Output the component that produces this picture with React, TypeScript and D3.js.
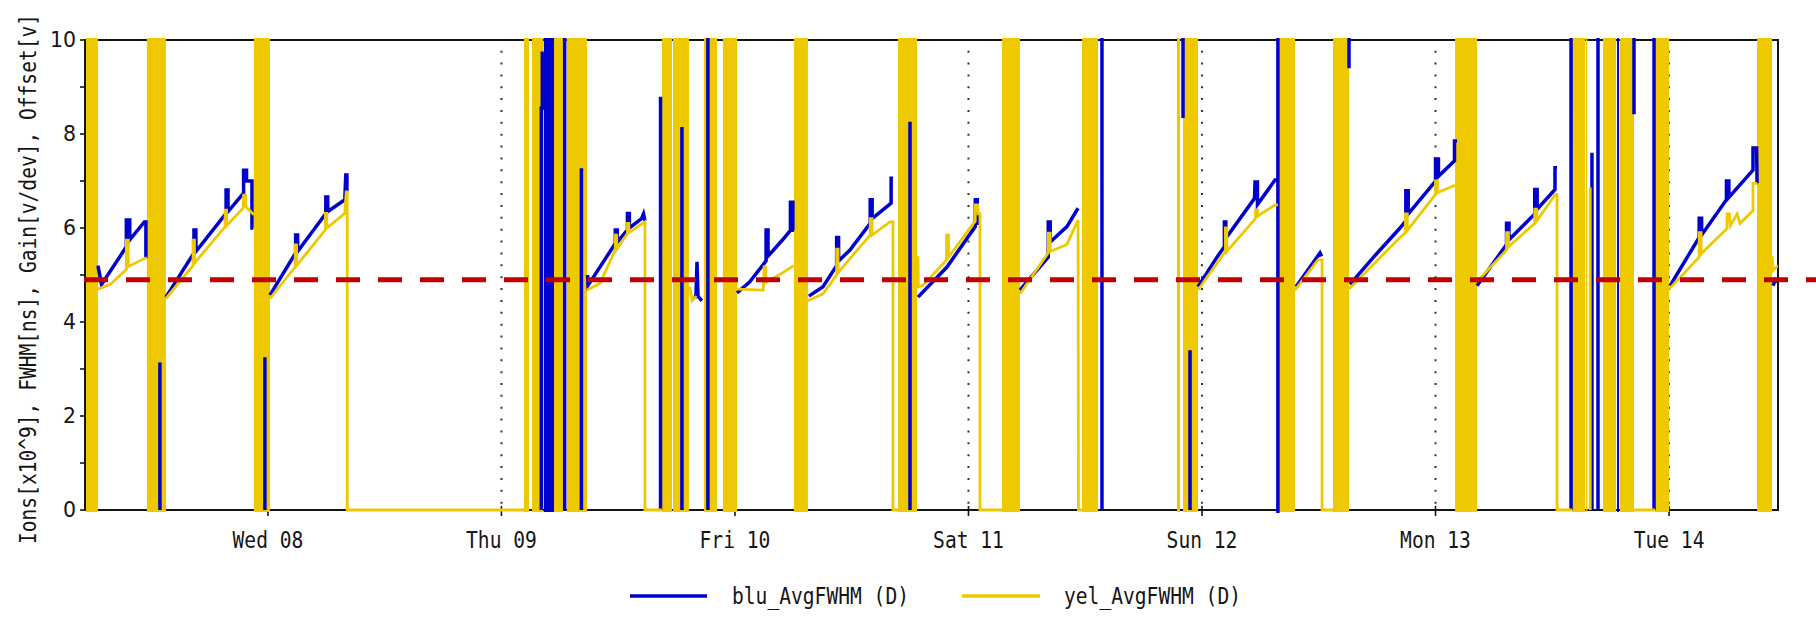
import React from 'react';
import * as d3 from 'd3';

// ---------- data (time = hours since Tue 07 00:00 UTC, value in chart units) ----------
type P = [number, number] | null;

const SERIES_NAMES = ['blu_AvgFWHM (D)', 'yel_AvgFWHM (D)'];
const Y_LABEL = 'Ions[x10^9], FWHM[ns], Gain[v/dev], Offset[v]';
const Y_TICKS = [0, 2, 4, 6, 8, 10];
const Y_MINOR = [1, 3, 5, 7, 9];
const THRESHOLD = 4.9;
const X_START_H = 5.2;
const X_END_H = 179.2;

const blu: P[] = [
  [6.53, 5.2], [6.9, 4.8], [9.45, 5.6], [9.45, 6.17], [9.8, 6.17], [9.8, 5.75], [11.3, 6.13], [11.46, 6.13], [11.46, 5.36], null,
  [12.9, 0], [12.9, 3.14], null,
  [13.52, 4.53], [16.4, 5.47], [16.4, 5.96], [16.6, 5.96], [16.6, 5.5], [19.7, 6.31], [19.7, 6.81], [19.9, 6.81], [19.9, 6.35], [21.5, 6.74], [21.5, 7.23], [21.8, 7.23], [21.8, 7.0], [22.36, 7.0], [22.36, 6.0], [22.5, 6.0], null,
  [23.69, 0], [23.69, 3.25], null,
  [24.21, 4.57], [26.85, 5.47], [26.85, 5.85], [27.05, 5.85], [27.05, 5.5], [29.95, 6.31], [29.95, 6.66], [30.15, 6.66], [30.15, 6.35], [31.9, 6.6], [32.0, 7.13], [32.12, 7.13], [32.12, 6.77], null,
  [52.1, 0], [52.1, 8.55], [52.2, 8.55], [52.2, 9.72], [52.35, 9.72], null,
  [54.5, 0], [54.5, 12], null,
  [56.22, 0], [56.22, 7.27], null,
  [56.85, 5.0], [56.9, 4.78], [59.7, 5.67], [59.7, 5.96], [59.9, 5.96], [59.9, 5.7], [60.95, 5.96], [60.95, 6.31], [61.15, 6.31], [61.15, 6.0], [62.4, 6.2], [62.6, 6.3], [62.75, 6.15], null,
  [64.35, 0], [64.35, 8.79], null,
  [66.55, 0], [66.55, 8.15], null,
  [67.9, 4.5], [68.0, 4.6], [68.1, 5.28], [68.2, 4.55], [68.6, 4.45], null,
  [69.22, 0], [69.22, 12], null,
  [72.21, 4.62], [73.5, 4.85], [75.2, 5.3], [75.2, 5.96], [75.4, 5.96], [75.4, 5.4], [76.9, 5.75], [77.7, 5.95], [77.7, 6.55], [77.95, 6.55], [77.95, 5.95], [78.06, 5.95], null,
  [79.6, 4.55], [81.05, 4.75], [82.45, 5.2], [82.45, 5.8], [82.65, 5.8], [82.65, 5.3], [83.82, 5.53], [85.9, 6.1], [85.9, 6.6], [86.1, 6.6], [86.1, 6.2], [88.05, 6.53], [88.05, 7.06], [88.24, 7.06], null,
  [89.99, 0], [89.99, 8.26], null,
  [90.81, 4.53], [93.79, 5.17], [96.7, 6.03], [96.7, 6.6], [96.9, 6.6], [96.9, 6.1], [97.1, 6.1], null,
  [101.29, 4.68], [104.2, 5.38], [104.2, 6.13], [104.4, 6.13], [104.4, 5.7], [106.12, 6.03], [107.26, 6.42], null,
  [109.72, 0], [109.72, 12], null,
  [118.05, 12], [118.05, 8.34], null,
  [118.77, 0], [118.77, 3.4], null,
  [119.59, 4.75], [121.54, 5.38], [122.3, 5.6], [122.3, 6.13], [122.45, 6.13], [122.45, 5.78], [125.4, 6.63], [125.45, 6.98], [125.7, 6.98], [125.7, 6.5], [126.4, 6.7], [127.5, 7.02], [127.75, 7.02], null,
  [127.8, -1], [127.8, 12], null,
  [129.66, 4.75], [132.13, 5.47], [132.3, 5.4], null,
  [135.11, 12], [135.11, 9.4], null,
  [135.21, 4.8], [137.5, 5.35], [140.35, 6.0], [140.95, 6.15], [140.95, 6.79], [141.2, 6.79], [141.2, 6.3], [144.0, 7.0], [144.0, 7.47], [144.3, 7.47], [144.3, 7.1], [145.95, 7.43], [145.95, 7.85], [146.21, 7.85], null,
  [148.27, 4.77], [151.3, 5.65], [151.3, 6.1], [151.55, 6.1], [151.55, 5.75], [154.2, 6.3], [154.2, 6.82], [154.45, 6.82], [154.45, 6.4], [156.28, 6.82], [156.28, 7.28], [156.49, 7.28], null,
  [157.93, 0], [157.93, 12], null,
  [160.08, 0], [160.08, 7.6], null,
  [160.7, 0], [160.7, 12], null,
  [164.4, 12], [164.4, 8.42], null,
  [166.46, 0], [166.46, 12], null,
  [168.1, 4.77], [171.1, 5.8], [171.1, 6.21], [171.35, 6.21], [171.35, 5.85], [173.9, 6.6], [173.9, 7.0], [174.15, 7.0], [174.15, 6.65], [176.63, 7.23], [176.63, 7.7], [177.0, 7.7], [177.05, 6.95], null,
  [178.7, 4.77], [178.9, 4.9], [179.21, 4.85],
];

const yel: P[] = [
  [6.53, 4.7], [7.8, 4.8], [9.45, 5.12], [9.45, 5.74], [9.65, 5.74], [9.65, 5.18], [11.4, 5.36], [11.56, 5.36], null,
  [13.52, 4.5], [16.3, 5.2], [16.3, 5.74], [16.45, 5.74], [16.45, 5.25], [19.6, 6.03], [19.6, 6.38], [19.75, 6.38], [19.75, 6.05], [21.45, 6.42], [21.5, 6.7], [21.7, 6.7], [21.75, 6.45], [22.56, 6.28], null,
  [24.21, 4.5], [26.8, 5.17], [26.8, 5.64], [26.95, 5.64], [26.95, 5.2], [29.9, 5.96], [29.9, 6.31], [30.05, 6.31], [30.05, 6.0], [31.9, 6.31], [32.05, 6.77], [32.15, 6.77], [32.15, 0], [50.31, 0], null,
  [56.79, 4.68], [58.12, 4.82], [59.7, 5.53], [59.7, 5.85], [59.85, 5.85], [59.85, 5.55], [60.95, 5.88], [60.95, 6.1], [61.1, 6.1], [61.1, 5.9], [62.75, 6.13], [62.75, 0], [64.5, 0], null,
  [67.35, 4.75], [67.6, 4.45], [68.05, 4.55], null,
  [72.21, 4.7], [74.9, 4.68], [75.0, 5.17], [75.15, 5.17], [75.2, 4.85], [76.93, 5.05], [78.06, 5.2], null,
  [79.5, 4.45], [81.05, 4.6], [82.45, 5.0], [82.45, 5.55], [82.6, 5.55], [82.6, 5.05], [83.82, 5.35], [85.9, 5.85], [85.9, 6.2], [86.1, 6.2], [86.1, 5.85], [87.93, 6.13], [88.24, 6.13], [88.24, 0], [88.75, 0], null,
  [90.81, 5.4], [90.85, 4.75], [91.32, 4.78], [93.75, 5.32], [93.75, 5.85], [93.95, 5.85], [93.95, 5.38], [96.7, 6.15], [96.7, 6.49], [96.95, 6.49], [97.0, 6.3], [97.18, 6.3], [97.18, 0], [99.44, 0], null,
  [101.3, 4.6], [104.2, 5.47], [104.2, 5.89], [104.4, 5.89], [104.4, 5.5], [106.12, 5.65], [107.26, 6.17], [107.3, 0], [107.67, 0], null,
  [119.59, 4.68], [122.4, 5.5], [122.4, 6.0], [122.55, 6.0], [122.55, 5.5], [125.5, 6.2], [125.5, 6.38], [125.7, 6.38], [125.7, 6.25], [127.5, 6.49], [127.81, 6.49], null,
  [129.56, 4.68], [131.92, 5.32], [132.34, 5.32], [132.34, 0], [133.47, 0], null,
  [135.11, 4.7], [140.35, 5.8], [140.9, 5.9], [140.9, 6.3], [141.1, 6.3], [141.1, 5.95], [144.0, 6.71], [144.0, 7.0], [144.2, 7.0], [144.2, 6.75], [145.9, 6.9], [146.01, 6.9], null,
  [148.27, 4.86], [151.3, 5.53], [151.3, 5.9], [151.5, 5.9], [151.5, 5.6], [154.2, 6.1], [154.2, 6.4], [154.4, 6.4], [154.4, 6.15], [156.3, 6.71], [156.49, 6.71], [156.49, 0], [158.03, 0], null,
  [159.9, 0], [159.9, 6.86], null,
  [164.4, 0], [166.56, 0], null,
  [168.0, 4.7], [171.1, 5.38], [171.1, 5.9], [171.3, 5.9], [171.3, 5.45], [173.96, 5.99], [173.96, 6.3], [174.2, 6.3], [174.3, 6.05], [175.0, 6.3], [175.3, 6.1], [176.63, 6.37], [176.63, 6.95], [177.05, 6.95], null,
  [178.59, 5.4], [178.7, 5.1], [179.21, 5.2],
];

// intervals where the signal oscillates densely between 0 and full scale
const yelBursts: [number, number][] = [
  [5.2, 6.53], [11.56, 13.52], [22.56, 24.21], [50.31, 50.83], [51.14, 52.27], [53.4, 54.32], [54.73, 56.79],
  [64.5, 65.53], [65.63, 67.27], [68.81, 70.15], [70.76, 72.21], [78.06, 79.5], [88.75, 90.71], [99.44, 101.29],
  [107.67, 109.31], [117.43, 117.74], [118.05, 119.59], [127.81, 129.56], [133.47, 135.11], [146.01, 148.27],
  [158.03, 159.37], [159.45, 159.6], [161.22, 162.55], [162.96, 164.4], [166.56, 168.0], [177.05, 178.59],
];
const bluBursts: [number, number][] = [[52.35, 53.4], [162.66, 162.86]];

// ---------- styling ----------
const BLUE = '#0000cc';
const YELLOW = '#eec900';
const RED = '#c00000';
const INK = '#151515';
const MONO = "'DejaVu Sans Mono', monospace";
const SANS = "'DejaVu Sans', sans-serif";
const STRETCH = 1.17;

const BASE = Date.UTC(2025, 0, 7);
const T = (h: number) => new Date(BASE + h * 3600e3);

function Mono(props: { x: number; y: number; anchor?: string; len?: number; rotate?: boolean; children: string }) {
  const { x, y, anchor = 'start', len, rotate, children } = props;
  const tf = `translate(${x},${y})${rotate ? ' rotate(-90)' : ''} scale(1,${STRETCH})`;
  return (
    <g transform={tf}>
      <text x={0} y={0} textAnchor={anchor} fontFamily={MONO} fontSize={19.6} fill={INK}
        {...(len ? { textLength: len, lengthAdjust: 'spacingAndGlyphs' } : {})}>{children}</text>
    </g>
  );
}

export default function App() {
  const L = 85, R = 1778, TOP = 40, BOT = 510;
  const xs = d3.scaleUtc().domain([T(X_START_H), T(X_END_H)]).range([L, R]);
  const ys = d3.scaleLinear().domain([0, 10]).range([BOT, TOP]);
  const line = d3.line<P>()
    .defined((d) => d !== null)
    .x((d) => xs(T((d as [number, number])[0])))
    .y((d) => ys((d as [number, number])[1]));
  const days = xs.ticks(d3.utcDay.every(1) as any);
  const fmt = d3.utcFormat('%a %d');

  return (
    <svg width={1816} height={620} style={{ position: 'absolute', left: 0, top: 0, background: '#fff' }}>
      <defs>
        <clipPath id="plotclip">
          <rect x={L + 1} y={TOP - 2} width={R - L - 1} height={BOT - TOP + 5} />
        </clipPath>
      </defs>
      <rect x={0} y={0} width={1816} height={620} fill="#fff" />

      {/* vertical dotted day grid */}
      {days.map((d, i) => (
        <line key={'g' + i} x1={xs(d)} x2={xs(d)} y1={503.7} y2={45} stroke="#333" strokeWidth={2}
          strokeDasharray="2 9.87" />
      ))}

      {/* frame */}
      <rect x={L} y={TOP} width={R - L} height={BOT - TOP} fill="none" stroke={INK} strokeWidth={2} />

      {/* y ticks */}
      {[...Y_TICKS, ...Y_MINOR].map((v) => (
        <line key={'yt' + v} x1={L - 5} x2={L} y1={ys(v)} y2={ys(v)} stroke={INK} strokeWidth={1.6} />
      ))}
      {Y_TICKS.map((v) => (
        <text key={'yl' + v} x={76} y={ys(v)} dy="0.36em" textAnchor="end" fontFamily={SANS} fontSize={20.5} fill={INK}>
          {String(v)}
        </text>
      ))}

      {/* x ticks + labels */}
      {days.map((d, i) => (
        <g key={'xt' + i}>
          <line x1={xs(d)} x2={xs(d)} y1={506} y2={516} stroke={INK} strokeWidth={1.6} />
          <Mono x={xs(d)} y={548} anchor="middle">{fmt(d)}</Mono>
        </g>
      ))}

      {/* y axis title */}
      <Mono x={35.5} y={279} anchor="middle" rotate len={530}>{Y_LABEL}</Mono>

      {/* data */}
      <g clipPath="url(#plotclip)">
        {yelBursts.map(([a, b], i) => (
          <rect key={'yb' + i} x={xs(T(a))} width={Math.max(1.5, xs(T(b)) - xs(T(a)))} y={TOP - 2} height={BOT - TOP + 4} fill={YELLOW} />
        ))}
        {bluBursts.map(([a, b], i) => (
          <rect key={'bb' + i} x={xs(T(a))} width={Math.max(2, xs(T(b)) - xs(T(a)))} y={TOP - 2} height={BOT - TOP + 4} fill={BLUE} />
        ))}
        <path d={line(blu) || ''} fill="none" stroke={BLUE} strokeWidth={3.5} strokeLinejoin="miter" />
        <path d={line(yel) || ''} fill="none" stroke={YELLOW} strokeWidth={2.8} strokeLinejoin="miter" />
      </g>

      {/* threshold */}
      <line x1={84} x2={1816} y1={ys(THRESHOLD)} y2={ys(THRESHOLD)} stroke={RED} strokeWidth={5} strokeDasharray="24 18" />

      {/* legend */}
      <line x1={630} x2={707} y1={596} y2={596} stroke={BLUE} strokeWidth={3.5} />
      <Mono x={732} y={604} len={177}>{SERIES_NAMES[0]}</Mono>
      <line x1={962} x2={1040} y1={596} y2={596} stroke={YELLOW} strokeWidth={3.5} />
      <Mono x={1064} y={604} len={177}>{SERIES_NAMES[1]}</Mono>
    </svg>
  );
}
